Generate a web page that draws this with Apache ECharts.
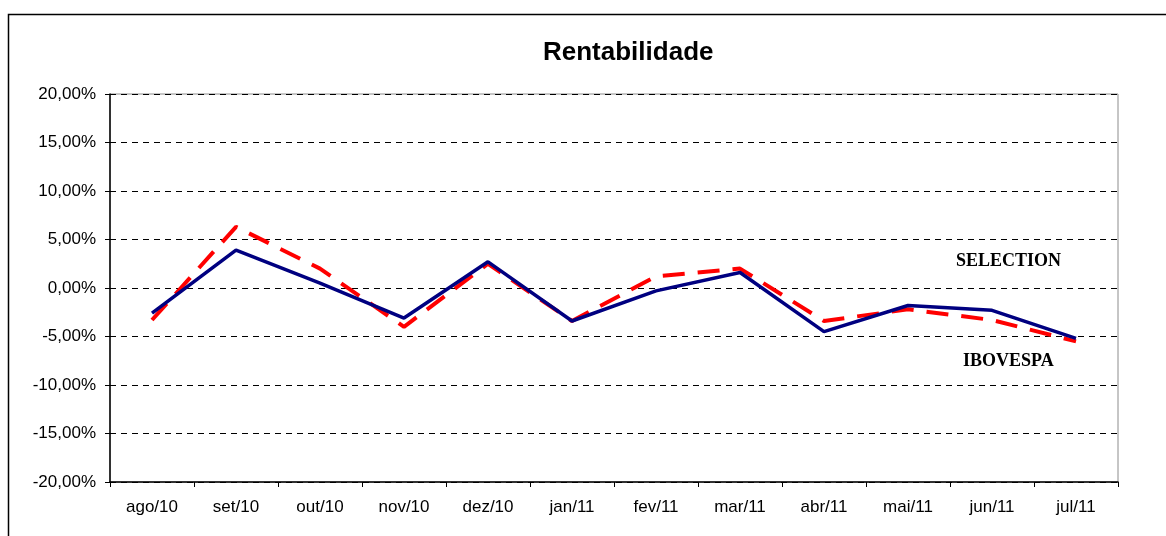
<!DOCTYPE html>
<html lang="pt">
<head>
    <meta charset="UTF-8">
    <title>Rentabilidade</title>
    <script src="https://cdn.jsdelivr.net/npm/echarts@6/dist/echarts.min.js"></script>
    <style>
        html, body { margin: 0; padding: 0; background: #fff; }
        #container { width: 1166px; height: 536px; }
    </style>
</head>
<body>
<div id="container"></div>
<script>
    // meses
    const months = ['ago/10', 'set/10', 'out/10', 'nov/10', 'dez/10', 'jan/11',
        'fev/11', 'mar/11', 'abr/11', 'mai/11', 'jun/11', 'jul/11'];
    // rentabilidade mensal em %
    const selection = [-2.6, 3.9, 0.5, -3.1, 2.7, -3.4, -0.3, 1.6, -4.5, -1.8, -2.3, -5.2];
    const ibovespa = [-3.3, 6.3, 2.0, -4.0, 2.5, -3.4, 1.2, 2.0, -3.4, -2.2, -3.3, -5.5];

    var dom = document.getElementById('container');
    var myChart = echarts.init(dom, null, { renderer: 'canvas' });

    var option = {
        backgroundColor: '#fff',
        animation: false,
        title: {
            text: 'Rentabilidade',
            left: 538,
            top: 35,
            textStyle: { fontFamily: 'Liberation Sans', fontSize: 26, fontWeight: 'bold', color: '#000' }
        },
        grid: {
            left: 110, right: 48, top: 94, bottom: 54,
            show: true, borderColor: '#8c8c8c', borderWidth: 1, backgroundColor: 'transparent'
        },
        xAxis: {
            type: 'category',
            data: months,
            boundaryGap: true,
            axisLine: { onZero: false, lineStyle: { color: '#000', width: 1.5 } },
            axisTick: { show: true, length: 5, lineStyle: { color: '#000' } },
            axisLabel: { color: '#000', fontFamily: 'Liberation Sans', fontSize: 17, margin: 17 },
            splitLine: { show: false }
        },
        yAxis: {
            type: 'value',
            min: -20, max: 20, interval: 5,
            axisLine: { show: true, lineStyle: { color: '#000', width: 1.5 } },
            axisTick: { show: true, length: 5, lineStyle: { color: '#000' } },
            axisLabel: {
                color: '#000', fontFamily: 'Liberation Sans', fontSize: 17, margin: 14,
                formatter: function (v) { return v.toFixed(2).replace('.', ',') + '%'; }
            },
            splitLine: { show: true, lineStyle: { color: '#000', width: 1, type: [6, 5] } }
        },
        series: [
            {
                name: 'IBOVESPA',
                type: 'line',
                data: ibovespa,
                symbol: 'none',
                lineStyle: { color: '#ff0000', width: 4, type: [22, 13] },
                z: 2
            },
            {
                name: 'SELECTION',
                type: 'line',
                data: selection,
                symbol: 'none',
                lineStyle: { color: '#000080', width: 3.5 },
                z: 3
            }
        ],
        graphic: [
            {
                type: 'rect',
                shape: { x: 8.5, y: 14.5, width: 1170, height: 540 },
                style: { fill: 'none', stroke: '#000', lineWidth: 1.5 },
                silent: true
            },
            {
                type: 'text', left: 956, top: 252,
                style: { text: 'SELECTION', fontFamily: 'Liberation Serif', fontWeight: 'bold', fontSize: 18, fill: '#000' }
            },
            {
                type: 'text', left: 963, top: 352,
                style: { text: 'IBOVESPA', fontFamily: 'Liberation Serif', fontWeight: 'bold', fontSize: 18, fill: '#000' }
            }
        ]
    };
    myChart.setOption(option);
    window.addEventListener('resize', myChart.resize);
</script>
</body>
</html>
